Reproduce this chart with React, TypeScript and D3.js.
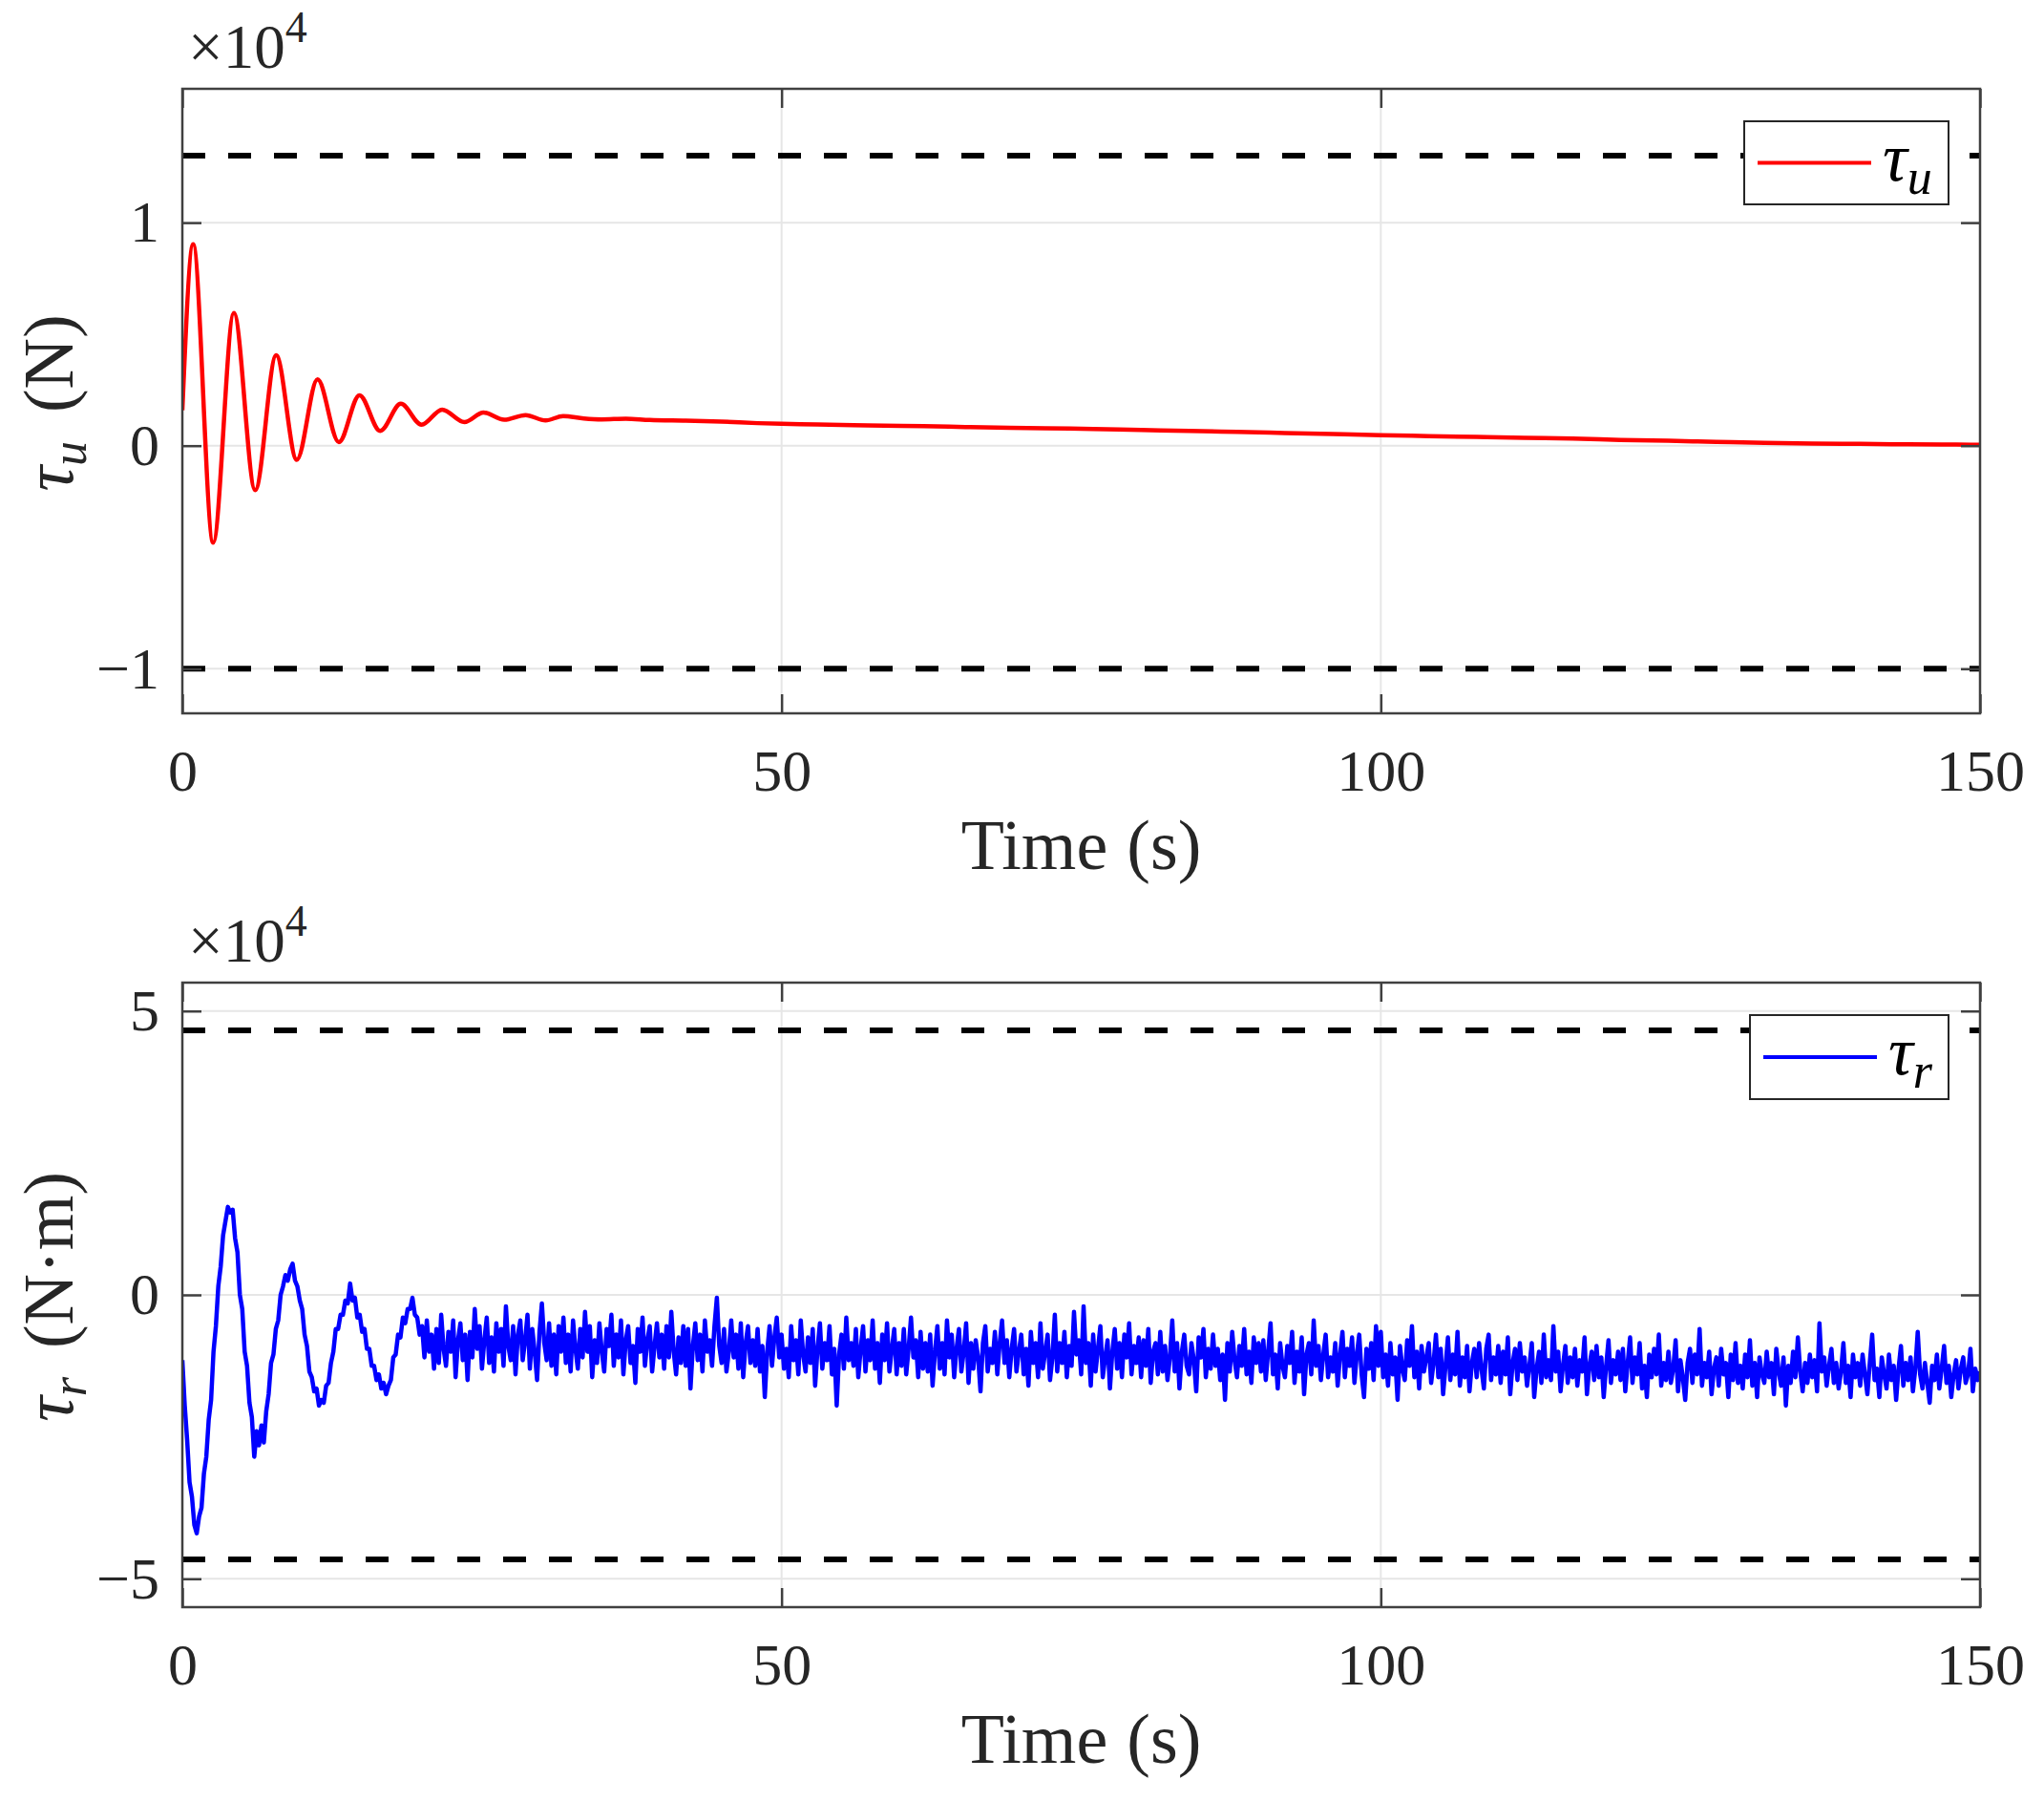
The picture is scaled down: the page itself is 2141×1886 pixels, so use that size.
import { useEffect, useRef } from "react";
import * as d3 from "d3";

const WIDTH = 2141;
const HEIGHT = 1886;
const FONT = '"Liberation Serif", "Times New Roman", serif';

const TIME_DOMAIN: [number, number] = [0, 150];
const TIME_TICKS = [0, 50, 100, 150];

// Upper panel: surge force tau_u (x 10^4 N)
const TAU_U_DOMAIN: [number, number] = [-1.2, 1.6];
const TAU_U_TICKS = [-1, 0, 1];
const TAU_U_LIMITS = [1.3, -1.0];
const TAU_U_TIME = [
  0, 0.9, 2.57, 4.3, 6.08, 7.83, 9.55, 11.28, 13.06, 14.78, 16.51, 18.23,
  19.96, 21.68, 23.54, 25.13, 26.86, 28.64, 30.31, 31.77, 33.5, 35, 37, 39,
  42, 45, 48, 50, 53, 56, 60, 64, 68, 72, 76, 80, 84, 88, 92, 96, 100, 104,
  108, 112, 116, 120, 124, 128, 132, 136, 140, 144, 148, 150,
];
const TAU_U_VALUE = [
  0.159, 0.903, -0.435, 0.595, -0.199, 0.405, -0.063, 0.297, 0.016, 0.226,
  0.066, 0.188, 0.094, 0.162, 0.106, 0.149, 0.116, 0.137, 0.113, 0.133,
  0.122, 0.118, 0.121, 0.115, 0.112, 0.108, 0.101, 0.098, 0.095, 0.092,
  0.089, 0.085, 0.081, 0.078, 0.075, 0.07, 0.066, 0.062, 0.057, 0.052,
  0.047, 0.043, 0.039, 0.035, 0.032, 0.026, 0.022, 0.017, 0.013, 0.01,
  0.008, 0.006, 0.005, 0.004,
];

// Lower panel: yaw moment tau_r (x 10^4 N.m), sampled every 0.2 s (one row = 2 s)
const TAU_R_DOMAIN: [number, number] = [-5.5, 5.5];
const TAU_R_TICKS = [-5, 0, 5];
const TAU_R_LIMITS = [4.66, -4.66];
const TAU_R_STEP = 0.2;
const TAU_R_VALUE = [
  // 0 - 19.8 s
  -1.15, -1.95, -2.55, -3.3, -3.55, -4.05, -4.2, -3.9, -3.75, -3.15,
  -2.85, -2.2, -1.85, -1.0, -0.55, 0.15, 0.5, 1.05, 1.3, 1.55,
  1.45, 1.5, 1.0, 0.75, 0.0, -0.25, -1.0, -1.25, -1.9, -2.15,
  -2.85, -2.4, -2.65, -2.3, -2.6, -2.05, -1.75, -1.2, -1.05, -0.6,
  -0.45, 0.0, 0.15, 0.35, 0.25, 0.45, 0.55, 0.25, 0.15, -0.1,
  -0.25, -0.7, -0.9, -1.35, -1.45, -1.7, -1.65, -1.95, -1.85, -1.9,
  -1.6, -1.55, -1.2, -1.0, -0.6, -0.6, -0.35, -0.35, -0.1, -0.15,
  0.2, -0.1, -0.05, -0.4, -0.35, -0.65, -0.6, -0.95, -0.95, -1.25,
  -1.25, -1.5, -1.4, -1.65, -1.55, -1.75, -1.6, -1.5, -1.1, -1.05,
  -0.7, -0.75, -0.4, -0.5, -0.25, -0.25, -0.05, -0.35, -0.4, -0.7,
  // 20 - 150 s
  -0.55, -1.1, -0.45, -1.0, -0.7, -1.3, -0.6, -1.2, -0.35, -0.95,
  -1.25, -0.65, -1.0, -0.45, -1.45, -0.8, -0.5, -1.15, -0.7, -1.5,
  -0.65, -1.1, -0.25, -0.95, -0.55, -1.3, -0.8, -0.4, -1.2, -0.75,
  -1.35, -0.5, -1.0, -0.6, -1.25, -0.2, -0.9, -1.15, -0.55, -1.4,
  -0.7, -0.45, -1.15, -0.8, -0.35, -1.3, -0.6, -1.0, -1.5, -0.65,
  -0.15, -0.85, -1.15, -0.5, -1.25, -0.7, -1.4, -0.55, -1.0, -0.4,
  -1.2, -0.7, -1.35, -0.45, -0.95, -1.3, -0.6, -1.1, -0.3, -1.0,
  -0.55, -1.45, -0.8, -1.2, -0.5, -1.0, -1.35, -0.6, -0.9, -0.35,
  -1.25, -0.7, -1.1, -0.45, -1.4, -0.8, -0.55, -1.2, -0.9, -1.55,
  -0.6, -1.0, -0.4, -1.25, -0.8, -0.55, -1.35, -0.9, -0.5, -1.1,
  -0.7, -1.3, -0.55, -1.1, -0.3, -1.0, -1.4, -0.75, -1.2, -0.55,
  -1.25, -0.6, -1.65, -0.9, -0.5, -1.15, -0.7, -1.35, -0.45, -1.0,
  -0.8, -1.25, -0.55, -0.05, -0.9, -1.2, -0.6, -1.35, -1.0, -0.45,
  -1.1, -0.7, -1.3, -0.5, -1.45, -0.85, -0.55, -1.2, -0.8, -1.25,
  -0.6, -1.35, -0.9, -1.8, -1.0, -0.55, -1.25, -0.75, -0.4, -1.1,
  -0.7, -1.3, -0.95, -1.45, -0.55, -1.15, -0.8, -1.4, -0.45, -1.05,
  -1.35, -0.75, -1.2, -0.6, -1.6, -0.95, -0.5, -1.3, -0.85, -1.15,
  -0.55, -1.4, -0.95, -1.95, -1.05, -0.7, -1.3, -0.4, -1.15, -0.85,
  -1.25, -0.6, -1.45, -0.95, -0.55, -1.35, -0.8, -1.15, -0.45, -1.3,
  -0.85, -1.55, -0.7, -1.15, -0.5, -1.35, -0.95, -0.6, -1.4, -0.85,
  -1.25, -0.6, -1.4, -0.95, -0.4, -1.1, -0.8, -1.45, -0.65, -1.3,
  -0.85, -1.35, -0.7, -1.6, -1.0, -0.55, -1.3, -0.85, -1.4, -0.45,
  -1.1, -0.7, -1.45, -0.95, -0.6, -1.35, -1.0, -0.5, -1.55, -0.85,
  -1.3, -0.8, -1.1, -1.7, -0.85, -0.55, -1.35, -0.95, -1.2, -0.65,
  -1.4, -0.85, -0.45, -1.2, -0.8, -1.45, -0.95, -0.6, -1.35, -1.0,
  -0.7, -1.4, -0.95, -1.6, -0.65, -1.2, -0.85, -1.45, -0.5, -1.3,
  -1.0, -0.7, -1.5, -1.1, -0.35, -1.35, -0.85, -1.2, -0.65, -1.45,
  -0.9, -1.25, -0.3, -1.05, -0.8, -1.4, -0.2, -1.2, -0.85, -1.6,
  -0.7, -1.35, -0.95, -0.55, -1.45, -1.1, -0.8, -1.65, -1.0, -0.6,
  -1.3, -0.85, -1.45, -0.7, -1.1, -0.5, -1.4, -0.9, -1.2, -0.75,
  -1.45, -0.8, -1.25, -0.6, -1.55, -1.0, -0.85, -1.4, -0.65, -1.35,
  -0.9, -1.5, -1.1, -0.45, -1.35, -0.85, -1.65, -1.0, -0.7, -1.25,
  -1.4, -0.85, -1.15, -1.7, -0.75, -1.1, -0.6, -1.45, -0.95, -1.3,
  -0.7, -1.25, -0.95, -1.5, -1.05, -1.85, -0.85, -1.35, -0.65, -1.15,
  -1.45, -0.9, -1.25, -0.6, -1.4, -1.0, -1.55, -0.75, -1.2, -0.85,
  -1.35, -0.8, -1.5, -1.0, -0.5, -1.4, -1.05, -1.65, -0.85, -1.25,
  -1.45, -0.9, -1.2, -0.65, -1.55, -1.0, -1.35, -0.75, -1.75, -1.05,
  -0.85, -1.4, -0.45, -1.25, -0.9, -1.5, -1.05, -0.7, -1.45, -1.1,
  -1.35, -0.85, -1.6, -1.05, -0.65, -1.45, -0.95, -1.25, -0.75, -1.55,
  -1.05, -0.7, -1.4, -1.8, -0.95, -1.3, -0.85, -1.5, -0.55, -1.25,
  -0.65, -1.45, -1.05, -1.6, -0.85, -1.4, -1.1, -1.85, -0.9, -1.3,
  -1.5, -0.8, -1.25, -0.55, -1.45, -1.0, -1.65, -0.9, -1.35, -1.1,
  -0.85, -1.55, -1.2, -0.7, -1.45, -0.95, -1.75, -1.25, -0.75, -1.5,
  -1.05, -1.4, -0.65, -1.6, -1.1, -1.45, -0.9, -1.7, -1.2, -0.95,
  -1.45, -0.85, -1.3, -1.65, -0.95, -0.7, -1.5, -1.1, -1.4, -0.9,
  -1.55, -1.0, -1.4, -0.75, -1.75, -1.2, -0.95, -1.5, -0.85, -1.35,
  -1.1, -1.6, -1.25, -0.85, -1.8, -1.3, -1.0, -1.55, -0.7, -1.45,
  -1.15, -1.5, -0.55, -1.35, -1.0, -1.7, -1.25, -0.9, -1.55, -1.1,
  -1.45, -0.95, -1.6, -1.15, -1.35, -0.75, -1.75, -1.25, -1.0, -1.5,
  -0.9, -1.45, -1.1, -1.8, -1.25, -0.8, -1.55, -1.15, -1.4, -1.0,
  -1.5, -0.95, -1.7, -1.2, -0.75, -1.55, -1.1, -1.4, -0.85, -1.65,
  -1.25, -1.8, -1.05, -1.45, -0.95, -1.4, -0.7, -1.6, -1.2, -1.5,
  -1.0, -1.55, -1.3, -0.8, -1.7, -1.15, -1.45, -1.85, -1.2, -0.95,
  -1.55, -1.05, -1.4, -0.6, -1.6, -1.2, -1.45, -1.0, -1.75, -1.3,
  -1.1, -1.6, -0.95, -1.4, -1.2, -1.8, -1.05, -1.5, -0.85, -1.55,
  -1.25, -1.65, -1.05, -1.45, -0.8, -1.6, -1.2, -1.8, -1.1, -1.4,
  -1.55, -1.0, -1.45, -1.2, -1.75, -0.95, -1.35, -1.6, -1.1, -1.95,
  -1.25, -1.55, -1.0, -1.45, -0.75, -1.35, -1.7, -1.2, -1.55, -1.05,
  -1.45, -1.15, -1.7, -0.5, -1.35, -1.1, -1.6, -1.25, -0.95, -1.55,
  -1.2, -1.65, -1.35, -0.85, -1.55, -1.25, -1.8, -1.05, -1.45, -1.2,
  -1.6, -1.05, -1.4, -1.75, -1.2, -0.7, -1.5, -1.3, -1.8, -1.1,
  -1.4, -1.65, -1.05, -1.5, -1.25, -1.85, -1.3, -0.9, -1.6, -1.2,
  -1.5, -1.1, -1.7, -1.3, -0.65, -1.4, -1.65, -1.2, -1.55, -1.9,
  -1.25, -1.5, -1.05, -1.65, -1.3, -0.9, -1.55, -1.25, -1.8, -1.4,
  -1.15, -1.65, -1.3, -1.1, -1.55, -1.4, -0.95, -1.7, -1.3, -1.5,
  -1.35,
];

const PLOT_LEFT = 191;
const PLOT_RIGHT = 2074;

interface PanelSpec {
  id: string;
  top: number;
  bottom: number;
  domain: [number, number];
  ticks: number[];
  limits: number[];
  points: [number, number][];
  color: string;
  width: number;
  curve: d3.CurveFactory;
  symbol: string;
  unit: string;
  legend: { x0: number; x1: number; y0: number; y1: number };
}

const PANELS: PanelSpec[] = [
  {
    id: "u",
    top: 93,
    bottom: 747,
    domain: TAU_U_DOMAIN,
    ticks: TAU_U_TICKS,
    limits: TAU_U_LIMITS,
    points: TAU_U_TIME.map((t, i) => [t, TAU_U_VALUE[i]]),
    color: "#ff0000",
    width: 4.5,
    curve: d3.curveMonotoneX,
    symbol: "u",
    unit: "(N)",
    legend: { x0: 1827, x1: 2041, y0: 127, y1: 214 },
  },
  {
    id: "r",
    top: 1029,
    bottom: 1683,
    domain: TAU_R_DOMAIN,
    ticks: TAU_R_TICKS,
    limits: TAU_R_LIMITS,
    points: TAU_R_VALUE.map((v, i) => [i * TAU_R_STEP, v]),
    color: "#0000ff",
    width: 4.5,
    curve: d3.curveLinear,
    symbol: "r",
    unit: "(N\u00b7m)",
    legend: { x0: 1833, x1: 2041, y0: 1063, y1: 1151 },
  },
];

function drawPanel(
  svg: d3.Selection<SVGSVGElement, unknown, null, undefined>,
  p: PanelSpec,
) {
  const x = d3.scaleLinear().domain(TIME_DOMAIN).range([PLOT_LEFT, PLOT_RIGHT]);
  const y = d3.scaleLinear().domain(p.domain).range([p.bottom, p.top]);
  const g = svg.append("g");

  // grid
  g.selectAll(".vgrid")
    .data(TIME_TICKS)
    .join("line")
    .attr("x1", (d) => x(d))
    .attr("x2", (d) => x(d))
    .attr("y1", p.top)
    .attr("y2", p.bottom)
    .attr("stroke", "#e6e6e6")
    .attr("stroke-width", 2);
  g.selectAll(".hgrid")
    .data(p.ticks)
    .join("line")
    .attr("x1", PLOT_LEFT)
    .attr("x2", PLOT_RIGHT)
    .attr("y1", (d) => y(d))
    .attr("y2", (d) => y(d))
    .attr("stroke", "#e6e6e6")
    .attr("stroke-width", 2);

  // clip
  svg
    .append("defs")
    .append("clipPath")
    .attr("id", `clip-${p.id}`)
    .append("rect")
    .attr("x", PLOT_LEFT)
    .attr("y", p.top)
    .attr("width", PLOT_RIGHT - PLOT_LEFT)
    .attr("height", p.bottom - p.top);

  const data = g.append("g").attr("clip-path", `url(#clip-${p.id})`);

  // bound lines
  data
    .selectAll(".limit")
    .data(p.limits)
    .join("line")
    .attr("x1", x(TIME_DOMAIN[0]))
    .attr("x2", x(TIME_DOMAIN[1]))
    .attr("y1", (d) => y(d))
    .attr("y2", (d) => y(d))
    .attr("stroke", "#000")
    .attr("stroke-width", 6)
    .attr("stroke-dasharray", "24 24");

  const line = d3
    .line<[number, number]>()
    .x((d) => x(d[0]))
    .y((d) => y(d[1]))
    .curve(p.curve);

  data
    .append("path")
    .datum(p.points)
    .attr("d", line)
    .attr("fill", "none")
    .attr("stroke", p.color)
    .attr("stroke-width", p.width)
    .attr("stroke-linejoin", "round");

  // axes (MATLAB style inward ticks)
  const bottomAxis = g
    .append("g")
    .attr("transform", `translate(0,${p.bottom})`)
    .call(
      d3.axisBottom(x).tickValues(TIME_TICKS).tickSize(-20).tickPadding(37).tickFormat(d3.format("d")),
    );
  const topAxis = g
    .append("g")
    .attr("transform", `translate(0,${p.top})`)
    .call(d3.axisTop(x).tickValues(TIME_TICKS).tickSize(-20).tickFormat(() => ""));
  const leftAxis = g
    .append("g")
    .attr("transform", `translate(${PLOT_LEFT},0)`)
    .call(d3.axisLeft(y).tickValues(p.ticks).tickSize(-20).tickPadding(24).tickFormat(d3.format("d")));
  const rightAxis = g
    .append("g")
    .attr("transform", `translate(${PLOT_RIGHT},0)`)
    .call(d3.axisRight(y).tickValues(p.ticks).tickSize(-20).tickFormat(() => ""));

  for (const a of [bottomAxis, topAxis, leftAxis, rightAxis]) {
    a.select(".domain").remove();
    a.attr("color", "#262626");
    a.selectAll(".tick line").attr("stroke-width", 2.5).attr("stroke", "#404040");
    a.selectAll("text")
      .attr("font-family", FONT)
      .attr("font-size", 62)
      .attr("fill", "#262626");
  }
  bottomAxis.selectAll("text").attr("dy", "0.71em");

  // frame
  g.append("rect")
    .attr("x", PLOT_LEFT)
    .attr("y", p.top)
    .attr("width", PLOT_RIGHT - PLOT_LEFT)
    .attr("height", p.bottom - p.top)
    .attr("fill", "none")
    .attr("stroke", "#404040")
    .attr("stroke-width", 2.5);

  // exponent label
  const expo = g
    .append("text")
    .attr("x", 197)
    .attr("y", p.top - 22)
    .attr("font-family", FONT)
    .attr("font-size", 65)
    .attr("fill", "#262626");
  expo.append("tspan").text("\u00d710");
  expo.append("tspan").attr("dy", -27).attr("font-size", 46).text("4");

  // x label
  const xl = g
    .append("text")
    .attr("x", (PLOT_LEFT + PLOT_RIGHT) / 2)
    .attr("y", p.bottom + 163)
    .attr("text-anchor", "middle")
    .attr("font-family", FONT)
    .attr("font-size", 74)
    .attr("fill", "#262626");
  xl.append("tspan").text("Time");
  xl.append("tspan").attr("dx", 20).text("(s)");

  // y label
  const yl = g
    .append("text")
    .attr("transform", `translate(76,${(p.top + p.bottom) / 2 + 2}) rotate(-90)`)
    .attr("text-anchor", "middle")
    .attr("font-family", FONT)
    .attr("font-size", 74)
    .attr("fill", "#262626");
  yl.append("tspan").attr("font-style", "italic").text("\u03c4");
  yl.append("tspan")
    .attr("font-style", "italic")
    .attr("font-size", 52)
    .attr("dy", 14)
    .text(p.symbol);
  yl.append("tspan").attr("dy", -14).attr("dx", 30).text(p.unit);

  // legend
  const L = p.legend;
  const lg = g.append("g");
  lg.append("rect")
    .attr("x", L.x0)
    .attr("y", L.y0)
    .attr("width", L.x1 - L.x0)
    .attr("height", L.y1 - L.y0)
    .attr("fill", "#fff")
    .attr("stroke", "#262626")
    .attr("stroke-width", 2);
  const midY = (L.y0 + L.y1) / 2;
  lg.append("line")
    .attr("x1", L.x0 + 14)
    .attr("x2", L.x0 + 133)
    .attr("y1", midY)
    .attr("y2", midY)
    .attr("stroke", p.color)
    .attr("stroke-width", 4);
  const lt = lg
    .append("text")
    .attr("x", L.x0 + 145)
    .attr("y", midY + 18)
    .attr("font-family", FONT)
    .attr("font-size", 72)
    .attr("font-style", "italic")
    .attr("fill", "#000");
  lt.append("tspan").text("\u03c4");
  lt.append("tspan").attr("font-size", 52).attr("dy", 14).text(p.symbol);
}

export default function App() {
  const svgRef = useRef<SVGSVGElement>(null);

  useEffect(() => {
    document.body.style.margin = "0";
    if (!svgRef.current) return;
    const svg = d3.select(svgRef.current);
    svg.selectAll("*").remove();
    svg.append("rect").attr("width", WIDTH).attr("height", HEIGHT).attr("fill", "#fff");
    PANELS.forEach((p) => drawPanel(svg, p));
  }, []);

  return (
    <svg
      ref={svgRef}
      width={WIDTH}
      height={HEIGHT}
      viewBox={`0 0 ${WIDTH} ${HEIGHT}`}
      style={{ display: "block" }}
    />
  );
}
